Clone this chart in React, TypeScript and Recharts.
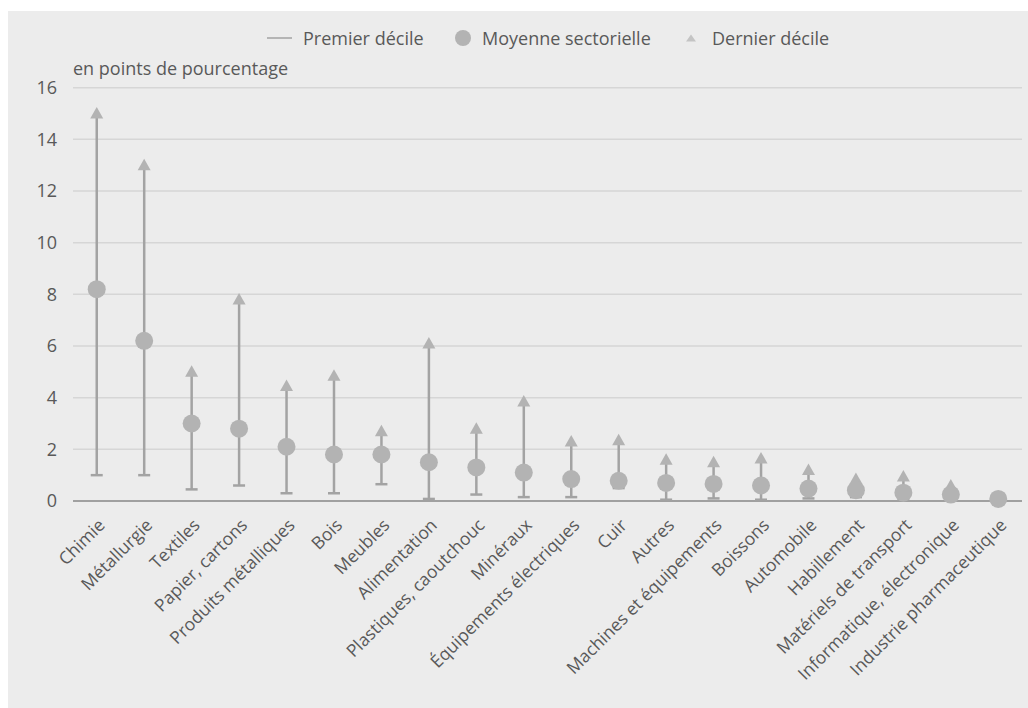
import React from "react";
import { ComposedChart, Bar, Line, XAxis, YAxis, CartesianGrid, Label } from "recharts";

const categories = [
  "Chimie",
  "Métallurgie",
  "Textiles",
  "Papier, cartons",
  "Produits métalliques",
  "Bois",
  "Meubles",
  "Alimentation",
  "Plastiques, caoutchouc",
  "Minéraux",
  "Équipements électriques",
  "Cuir",
  "Autres",
  "Machines et équipements",
  "Boissons",
  "Automobile",
  "Habillement",
  "Matériels de transport",
  "Informatique, électronique",
  "Industrie pharmaceutique",
];
const premierDecile = [1.0, 1.0, 0.45, 0.6, 0.3, 0.3, 0.65, 0.08, 0.25, 0.15, 0.15, 0.5, 0.05, 0.1, 0.05, 0.1, 0.15, 0.05, 0.02, 0.0];
const moyenne = [8.2, 6.2, 3.0, 2.8, 2.1, 1.8, 1.8, 1.5, 1.3, 1.1, 0.85, 0.78, 0.7, 0.66, 0.6, 0.48, 0.42, 0.32, 0.25, 0.08];
const dernierDecile = [15.0, 13.0, 5.0, 7.8, 4.45, 4.85, 2.7, 6.1, 2.8, 3.85, 2.3, 2.35, 1.6, 1.5, 1.65, 1.2, 0.85, 0.95, 0.6, 0.1];
const yTicks = [0, 2, 4, 6, 8, 10, 12, 14, 16];

const data = categories.map((name, i) => ({
  name,
  low: premierDecile[i],
  mean: moyenne[i],
  high: dernierDecile[i],
}));

const FONT = "'Open Sans', sans-serif";
const TEXT = "#595959";
const MARK = "#b3b3b3";
const STEM = "#a3a3a3";

const Stem = (props: any) => {
  const { x, y, width, height } = props;
  if (x == null || y == null) return null;
  const cx = x + width / 2;
  return <line x1={cx} x2={cx} y1={y} y2={y + height} stroke={STEM} strokeWidth={2.5} />;
};

const LowDot = (props: any) => {
  const { cx, cy, index } = props;
  if (cx == null || cy == null) return <g key={index} />;
  return <line key={index} x1={cx - 6} x2={cx + 6} y1={cy} y2={cy} stroke={STEM} strokeWidth={2.5} />;
};

const MeanDot = (props: any) => {
  const { cx, cy, index } = props;
  if (cx == null || cy == null) return <g key={index} />;
  return <circle key={index} cx={cx} cy={cy} r={9} fill={MARK} />;
};

const HighDot = (props: any) => {
  const { cx, cy, index } = props;
  if (cx == null || cy == null) return <g key={index} />;
  return (
    <path
      key={index}
      d={`M${cx},${cy - 6.5} L${cx + 6.5},${cy + 5} L${cx - 6.5},${cy + 5} Z`}
      fill={MARK}
    />
  );
};

const XTick = (props: any) => {
  const { x, y, payload } = props;
  return (
    <g transform={`translate(${x + 5},${y + 21})`}>
      <text
        x={0}
        y={0}
        dy="0.35em"
        textAnchor="end"
        transform="rotate(-45)"
        fill={TEXT}
        fontSize={17.5}
        fontFamily={FONT}
      >
        {payload.value}
      </text>
    </g>
  );
};

function LegendRow() {
  const txt = { position: "absolute", top: 16, lineHeight: "22px" } as const;
  return (
    <div style={{ position: "absolute", left: 0, top: 0, width: 1020, height: 50, fontFamily: FONT, fontSize: 18, color: TEXT }}>
      <svg style={{ position: "absolute", left: 0, top: 0 }} width={1020} height={50}>
        <line x1={259} x2={284} y1={27} y2={27} stroke={STEM} strokeWidth={1.5} />
        <circle cx={455} cy={27} r={8} fill={MARK} />
        <path d="M683,23.5 L688,30.5 L678,30.5 Z" fill="#c4c4c4" />
      </svg>
      <span style={{ ...txt, left: 295 }}>Premier décile</span>
      <span style={{ ...txt, left: 474 }}>Moyenne sectorielle</span>
      <span style={{ ...txt, left: 704 }}>Dernier décile</span>
    </div>
  );
}

export default function App() {
  return (
    <div style={{ position: "absolute", left: 0, top: 0, width: 1028, height: 708, background: "#fff", overflow: "hidden" }}>
      <div style={{ position: "absolute", left: 8, top: 11, width: 1020, height: 697, background: "#ececec" }}>
        <LegendRow />
        <ComposedChart
          width={1020}
          height={697}
          data={data}
          margin={{ top: 76.7, right: 6, left: 0, bottom: 0 }}
        >
          <CartesianGrid vertical={false} stroke="#d6d6d6" strokeWidth={1.5} />
          <XAxis
            dataKey="name"
            interval={0}
            tickLine={false}
            tickSize={0}
            tickMargin={0}
            height={207}
            axisLine={{ stroke: "#a0a0a0", strokeWidth: 2 }}
            tick={<XTick />}
          />
          <YAxis
            domain={[0, 16]}
            ticks={yTicks}
            width={65}
            axisLine={false}
            tickLine={false}
            tickSize={0}
            tickMargin={16}
            tick={{ fill: TEXT, fontSize: 18, fontFamily: FONT }}
          >
            <Label
              content={() => (
                <text x={65} y={64} fill={TEXT} fontSize={18} fontFamily={FONT}>
                  en points de pourcentage
                </text>
              )}
            />
          </YAxis>
          <Bar
            dataKey={(d: any) => [d.low, d.high]}
            shape={<Stem />}
            isAnimationActive={false}
            legendType="none"
          />
          <Line dataKey="low" stroke="none" dot={<LowDot />} activeDot={false} isAnimationActive={false} />
          <Line dataKey="high" stroke="none" dot={<HighDot />} activeDot={false} isAnimationActive={false} />
          <Line dataKey="mean" stroke="none" dot={<MeanDot />} activeDot={false} isAnimationActive={false} />
        </ComposedChart>
      </div>
    </div>
  );
}
